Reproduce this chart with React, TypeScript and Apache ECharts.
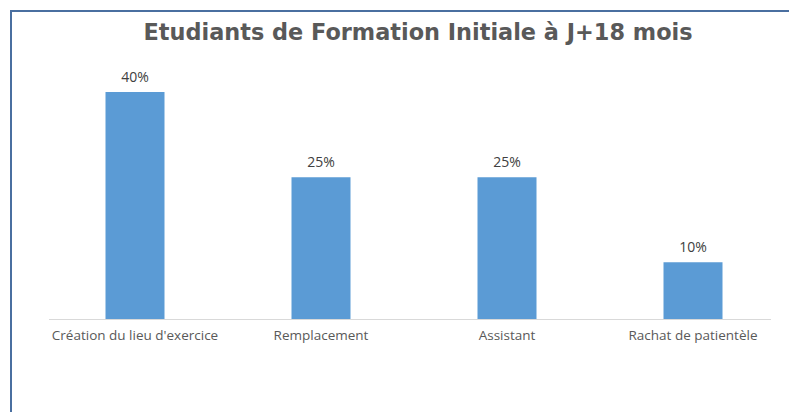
import React, { useEffect, useRef } from "react";
import * as echarts from "echarts";

const categories = ["Création du lieu d'exercice", "Remplacement", "Assistant", "Rachat de patientèle"];
const values = [40, 25, 25, 10];
const titleText = "Etudiants de Formation Initiale à J+18 mois";

export default function App() {
  const ref = useRef<HTMLDivElement>(null);
  useEffect(() => {
    document.body.style.margin = "0";
    const chart = echarts.init(ref.current!, null, { renderer: "svg" });
    chart.setOption({
      animation: false,
      backgroundColor: "#ffffff",
      title: {
        text: titleText,
        left: 413,
        textAlign: "center",
        top: 16,
        textStyle: { fontFamily: "DejaVu Sans", fontWeight: "bold", fontSize: 22.4, color: "#595959" },
      },
      grid: { left: 42, right: 3, top: 92, bottom: 93 },
      xAxis: {
        type: "category",
        data: categories,
        axisLine: { show: false },
        axisTick: { show: false },
        axisLabel: { color: "#595959", fontFamily: "Open Sans", fontSize: 13.5, margin: 9, interval: 0 },
      },
      yAxis: { type: "value", min: 0, max: 40, show: false, splitLine: { show: false } },
      series: [
        {
          type: "bar",
          data: values,
          barWidth: 59,
          itemStyle: { color: "#5b9bd5" },
          label: {
            show: true,
            position: "top",
            distance: 9,
            formatter: "{c}%",
            color: "#404040",
            fontFamily: "Open Sans",
            fontSize: 14,
          },
        },
      ],
      graphic: [
        { type: "line", shape: { x1: 49, y1: 319.5, x2: 771, y2: 319.5 }, style: { stroke: "#d9d9d9", lineWidth: 1 } },
        { type: "line", shape: { x1: 11, y1: 11, x2: 789, y2: 11 }, style: { stroke: "#4a6fa0", lineWidth: 2 } },
        { type: "line", shape: { x1: 11, y1: 10, x2: 11, y2: 412 }, style: { stroke: "#4a6fa0", lineWidth: 2 } },
      ],
    });
    return () => chart.dispose();
  }, []);
  return <div ref={ref} style={{ width: 789, height: 412 }} />;
}
